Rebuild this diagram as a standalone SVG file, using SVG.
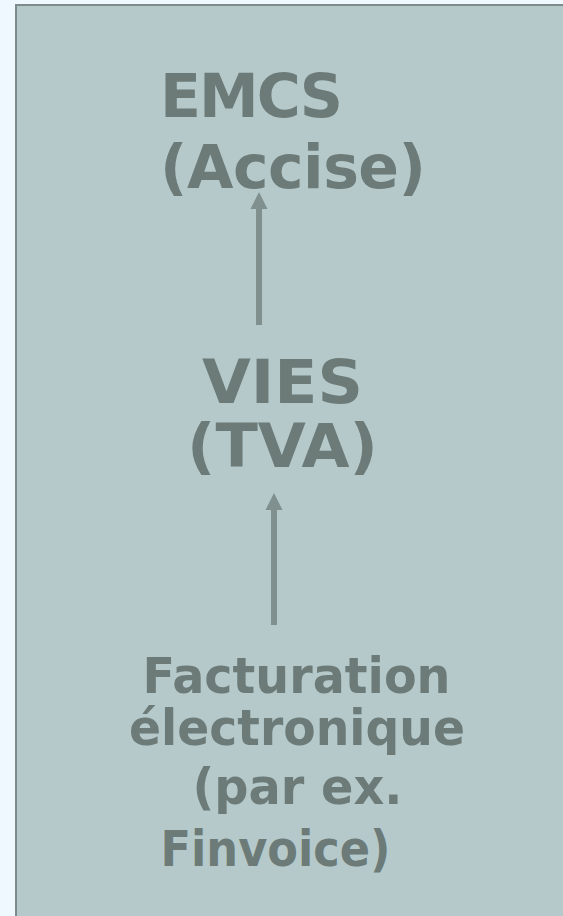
<svg xmlns="http://www.w3.org/2000/svg" width="563" height="916" viewBox="0 0 563 916">
<style>
.t{font-family:"DejaVu Sans",Verdana,sans-serif;font-weight:bold;fill:#6c7b78;text-anchor:middle}
.b{font-size:60px}
.s{font-size:49px}
.a{stroke:#7f908f;stroke-width:6;fill:none}
.h{fill:#7f908f}
</style>
<rect x="0" y="0" width="563" height="916" fill="#f0f8ff"/>
<rect x="16" y="5" width="560" height="930" fill="#b5c9cb" stroke="#7d8b8b" stroke-width="2"/>
<g id="connectors">
<path class="a" d="M259,325 L259,208"/>
<path class="h" d="M250.5,209 L259,192 L267.5,209 Z"/>
<path class="a" d="M274,625 L274,508"/>
<path class="h" d="M265.5,510 L274,493 L282.5,510 Z"/>
</g>
<g id="emcs">
<text class="t b" x="251.5" y="117" textLength="183" lengthAdjust="spacing">EMCS</text>
<text class="t b" x="293" y="188" textLength="266" lengthAdjust="spacing">(Accise)</text>
</g>
<g id="vies">
<text class="t b" x="282.5" y="403" textLength="161" lengthAdjust="spacingAndGlyphs">VIES</text>
<text class="t b" x="282.5" y="467" textLength="191" lengthAdjust="spacingAndGlyphs">(TVA)</text>
</g>
<g id="facturation">
<text class="t s" x="296.5" y="693" textLength="308" lengthAdjust="spacingAndGlyphs">Facturation</text>
<text class="t s" x="297" y="745" textLength="336" lengthAdjust="spacingAndGlyphs">électronique</text>
<text class="t s" x="297.5" y="804" textLength="210" lengthAdjust="spacingAndGlyphs">(par ex.</text>
<text class="t s" x="275.5" y="866" textLength="230" lengthAdjust="spacingAndGlyphs">Finvoice)</text>
</g>
</svg>
